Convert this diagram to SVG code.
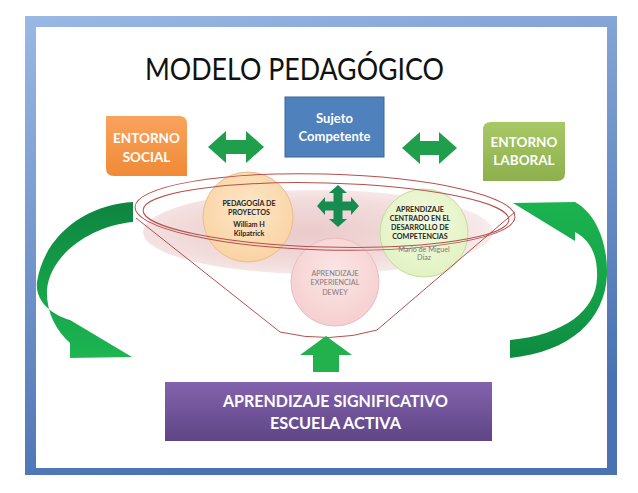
<svg xmlns="http://www.w3.org/2000/svg" width="638" height="493" viewBox="0 0 638 493">
<defs>
<linearGradient id="frameG" x1="0" y1="0" x2="0.3" y2="1">
<stop offset="0" stop-color="#9AB8E4"/><stop offset="1" stop-color="#4A72B2"/>
</linearGradient>
<linearGradient id="orangeG" x1="0" y1="0" x2="0" y2="1">
<stop offset="0" stop-color="#F9A35E"/><stop offset="1" stop-color="#F08A36"/>
</linearGradient>
<linearGradient id="greenBoxG" x1="0" y1="0" x2="0" y2="1">
<stop offset="0" stop-color="#A8C866"/><stop offset="1" stop-color="#8DB04C"/>
</linearGradient>
<linearGradient id="purpleG" x1="0" y1="0" x2="0" y2="1">
<stop offset="0" stop-color="#8463AE"/><stop offset="1" stop-color="#5E4585"/>
</linearGradient>
<linearGradient id="leftArrG" x1="0" y1="0" x2="0" y2="1">
<stop offset="0" stop-color="#0E8440"/><stop offset="0.5" stop-color="#14A048"/><stop offset="1" stop-color="#1EB552"/>
</linearGradient>
<linearGradient id="rightArrG" x1="0" y1="0" x2="0" y2="1">
<stop offset="0" stop-color="#1BB350"/><stop offset="0.5" stop-color="#16A54A"/><stop offset="1" stop-color="#0E8A40"/>
</linearGradient>
<radialGradient id="pinkG" cx="0.45" cy="0.5" r="0.55">
<stop offset="0" stop-color="#EBCACA"/><stop offset="0.7" stop-color="#F2DCDC"/><stop offset="1" stop-color="#F8ECEC"/>
</radialGradient>
<radialGradient id="c1G" cx="0.5" cy="0.4" r="0.6">
<stop offset="0" stop-color="#FDE7C8"/><stop offset="1" stop-color="#FAD3A3"/>
</radialGradient>
<radialGradient id="c2G" cx="0.5" cy="0.4" r="0.6">
<stop offset="0" stop-color="#F3FAE0"/><stop offset="1" stop-color="#E2F2C2"/>
</radialGradient>
<radialGradient id="c3G" cx="0.5" cy="0.4" r="0.6">
<stop offset="0" stop-color="#FBE6E6"/><stop offset="1" stop-color="#F6CFCF"/>
</radialGradient>
</defs>
<style>
.lbl{font-family:Lato,"Liberation Sans",sans-serif;font-weight:bold;fill:#FFFFFF;text-anchor:middle}
.ctx{font-family:Lato,"Liberation Sans",sans-serif;font-weight:bold;fill:#262626;text-anchor:middle;font-size:7.2px}
.gtx{font-family:Lato,"Liberation Sans",sans-serif;fill:#7A7A7A;text-anchor:middle;font-size:7.2px}
.rim{fill:none;stroke:#B5504C;stroke-width:1}
.arr{fill:#1F9E4B}
</style>
<rect x="0" y="0" width="638" height="493" fill="#FFFFFF"/>
<g id="frame">
<rect x="25" y="16" width="592" height="459" fill="url(#frameG)"/>
<rect x="36" y="27" width="571" height="441" fill="#FFFFFF"/>
</g>
<g id="title">
<text x="294.5" y="80" font-family="Lato,'Liberation Sans',sans-serif" font-size="31" fill="#111111" text-anchor="middle" textLength="299" lengthAdjust="spacingAndGlyphs">MODELO PEDAGÓGICO</text>
</g>
<g id="funnel">
<ellipse cx="318" cy="232" rx="175" ry="42" fill="url(#pinkG)"/>
</g>
<g id="pedagogia-proyectos">
<circle cx="248" cy="217" r="45" fill="url(#c1G)" stroke="#E9BD8C" stroke-width="1"/>
</g>
<g id="aprendizaje-centrado">
<circle cx="424" cy="233" r="44" fill="url(#c2G)" stroke="#C6DB9E" stroke-width="1"/>
</g>
<g id="aprendizaje-experiencial">
<circle cx="335" cy="282" r="44" fill="url(#c3G)" stroke="#E8BDBC" stroke-width="1"/>
</g>
<g id="funnel-outline">
<ellipse class="rim" cx="325" cy="212" rx="190" ry="38" transform="rotate(1.5 325 212)"/>
<ellipse class="rim" cx="326" cy="215" rx="183" ry="32" transform="rotate(1.5 326 215)"/>
<path class="rim" d="M136,218 L280,332 Q330,344 377,330 L515,212"/>
</g>
<g id="circle-texts">
<text class="ctx" x="249" y="205.5">PEDAGOGÍA DE</text>
<text class="ctx" x="249" y="214.5">PROYECTOS</text>
<text class="ctx" x="249" y="226.5">William H</text>
<text class="ctx" x="249" y="235.5">Kilpatrick</text>
<text class="ctx" x="420" y="211.5">APRENDIZAJE</text>
<text class="ctx" x="420" y="220.5">CENTRADO EN EL</text>
<text class="ctx" x="420" y="229.5">DESARROLLO DE</text>
<text class="ctx" x="420" y="238.5">COMPETENCIAS</text>
<text class="gtx" x="424" y="251.5">Mario de Miguel</text>
<text class="gtx" x="424" y="260">Díaz</text>
<text class="gtx" x="335" y="275.5">APRENDIZAJE</text>
<text class="gtx" x="335" y="285">EXPERIENCIAL</text>
<text class="gtx" x="335" y="294.5">DEWEY</text>
</g>
<g id="entorno-social">
<path d="M106,116 L179,116 Q187,116 187,124 L187,176 L114,176 Q106,176 106,168 Z" fill="url(#orangeG)"/>
<text class="lbl" x="146.5" y="143" font-size="13.5">ENTORNO</text>
<text class="lbl" x="146.5" y="162" font-size="13.5">SOCIAL</text>
</g>
<g id="sujeto-competente">
<rect x="285" y="97" width="99" height="60" fill="#4F81BD" stroke="#3A6499" stroke-width="1"/>
<text class="lbl" x="334.5" y="123" font-size="13">Sujeto</text>
<text class="lbl" x="334.5" y="141" font-size="13">Competente</text>
</g>
<g id="entorno-laboral">
<path d="M491,122 L565,122 L565,173 Q565,181 557,181 L483,181 L483,130 Q483,122 491,122 Z" fill="url(#greenBoxG)"/>
<text class="lbl" x="524" y="147" font-size="13.5">ENTORNO</text>
<text class="lbl" x="524" y="165" font-size="13.5">LABORAL</text>
</g>
<g id="aprendizaje-significativo">
<rect x="165" y="382" width="327" height="59" fill="url(#purpleG)"/>
<text class="lbl" x="335.5" y="407" font-size="17" textLength="225" lengthAdjust="spacingAndGlyphs">APRENDIZAJE SIGNIFICATIVO</text>
<text class="lbl" x="335.5" y="429" font-size="17" textLength="131" lengthAdjust="spacingAndGlyphs">ESCUELA ACTIVA</text>
</g>
<g id="connectors">
<path class="arr" d="M208,147 L226,131 L226,140 L246,140 L246,131 L264,147 L246,163 L246,154 L226,154 L226,163 Z"/>
<path class="arr" d="M402,148 L420,132 L420,141 L439,141 L439,132 L457,148 L439,164 L439,155 L420,155 L420,164 Z"/>
<path fill="#178C50" d="M338,185 L347,193 L342.5,193 L342.5,201.5 L351,201.5 L351,197 L359,206 L351,215 L351,210.5 L342.5,210.5 L342.5,219 L347,219 L338,227 L329,219 L333.5,219 L333.5,210.5 L325,210.5 L325,215 L317,206 L325,197 L325,201.5 L333.5,201.5 L333.5,193 L329,193 Z"/>
<path fill="#22B14C" d="M326,336 L352,355 L339,355 L339,372 L313,372 L313,355 L300,355 Z"/>
<path fill="url(#leftArrG)" d="M133,202 C90,204 45,232 37,282 C35,300 50,314 70,320 L132,357 L70,358 L70,343 C55,330 46,310 47,290 C50,255 90,226 133,222 Z"/>
<path fill="url(#rightArrG)" d="M513,203 L575,202 C597,214 608,245 607,275 C605,320 570,352 510,358 L510,340 C565,335 596,310 597,278 C598,255 590,240 575,232 L575,241 Z"/>
</g>
</svg>
